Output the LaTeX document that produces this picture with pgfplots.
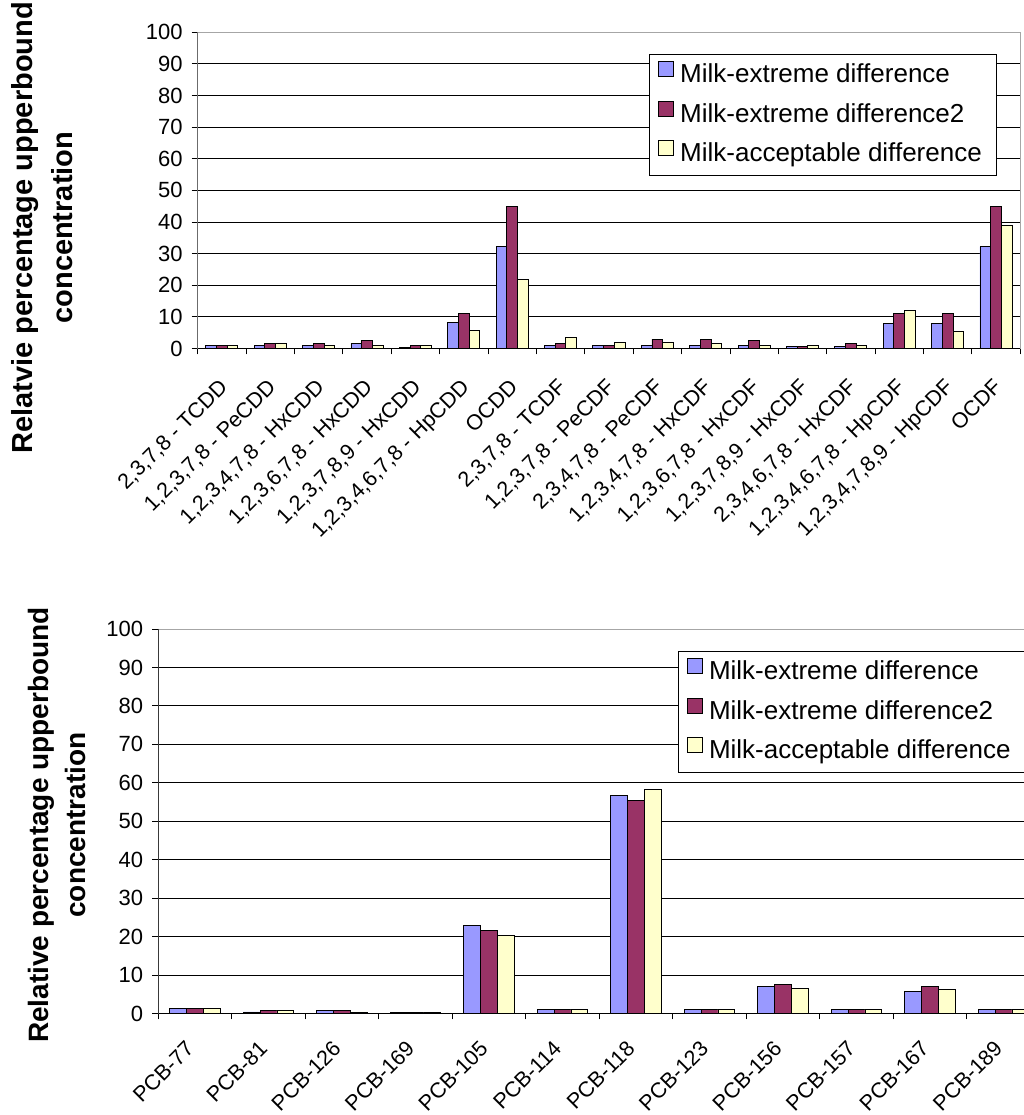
\documentclass[border=0pt]{standalone}
\usepackage{fontspec}
\setmainfont{Liberation Sans}
\usepackage{pgfplots}
\pgfplotsset{compat=1.18}
\definecolor{cBlue}{HTML}{9999FF}
\definecolor{cPurple}{HTML}{993366}
\definecolor{cYellow}{HTML}{FFFFCC}
\pgfplotsset{
  excelbar/.style={
    scale only axis,
    ybar=0pt,
    ymin=0, ymax=100,
    ytick={0,10,...,100},
    ymajorgrids,
    grid style={black, line width=0.8pt},
    axis line style={draw=gray!70, line width=0.8pt},
    xtick pos=bottom, ytick pos=left,
    tick align=outside,
    major tick length=6pt,
    minor tick length=6pt,
    tick style={black, line width=0.8pt},
    major x tick style={draw=none},
    /pgf/number format/assume math mode=true,
    yticklabel style={font=\fontsize{22}{26}\selectfont, inner sep=0pt, xshift=-9pt},
    legend cell align=left,
    legend image code/.code={\draw[##1, draw=black, line width=0.8pt] (0pt,-1pt) rectangle (15pt,14pt);},
    every axis plot/.append style={draw=black, line width=0.9pt},
  }
}
\begin{document}
\begin{tikzpicture}[x=1pt,y=1pt]
% ---------------- top chart ----------------
\begin{axis}[excelbar,
  at={(197.7pt,766.5pt)}, anchor=origin,
  width=822.5pt, height=316.3pt,
  xmin=0.5, xmax=17.5,
  bar width=10.7pt,
  xtick={1,...,17},
  minor xtick={0.5,1.5,...,17.5},
  xticklabels={{2,3,7,8 - TCDD},{1,2,3,7,8 - PeCDD},{1,2,3,4,7,8 - HxCDD},{1,2,3,6,7,8 - HxCDD},{1,2,3,7,8,9 - HxCDD},{1,2,3,4,6,7,8 - HpCDD},{OCDD},{2,3,7,8 - TCDF},{1,2,3,7,8 - PeCDF},{2,3,4,7,8 - PeCDF},{1,2,3,4,7,8 - HxCDF},{1,2,3,6,7,8 - HxCDF},{1,2,3,7,8,9 - HxCDF},{2,3,4,6,7,8 - HxCDF},{1,2,3,4,6,7,8 - HpCDF},{1,2,3,4,7,8,9 - HpCDF},{OCDF}},
  xticklabel style={font=\fontsize{21.5}{25}\selectfont, xshift=-4pt, yshift=-23pt, rotate=45, anchor=north east, inner sep=0pt},
  ylabel={Relatvie percentage upperbound\\concentration},
  ylabel style={at={(axis description cs:-0.1893,0.382)}, anchor=center, align=center, font=\fontsize{29}{40}\selectfont\bfseries},
  legend style={at={(rel axis cs:0.5487,0.931)}, anchor=north west, draw=black, line width=0.8pt, fill=white,
    font=\fontsize{26}{30}\selectfont, inner xsep=9pt, inner ysep=7pt, row sep=11pt,
    nodes={text height=19pt, text depth=5pt, inner xsep=6pt}},
]
\addplot[fill=cBlue] coordinates {(1,1) (2,1) (3,1) (4,1.6) (5,0.4) (6,8.1) (7,32.2) (8,1.05) (9,1) (10,1) (11,1) (12,1) (13,0.5) (14,0.5) (15,8.0) (16,8.0) (17,32.2)};
\addplot[fill=cPurple] coordinates {(1,1) (2,1.6) (3,1.6) (4,2.5) (5,1) (6,11.1) (7,45) (8,1.5) (9,1) (10,3.0) (11,3.0) (12,2.5) (13,0.5) (14,1.5) (15,11.0) (16,11.0) (17,44.9)};
\addplot[fill=cYellow] coordinates {(1,1) (2,1.6) (3,1) (4,1) (5,1) (6,5.6) (7,21.7) (8,3.6) (9,2.0) (10,2.0) (11,1.5) (12,1) (13,1) (14,1) (15,12.1) (16,5.5) (17,38.8)};
\legend{Milk-extreme difference, Milk-extreme difference2, Milk-acceptable difference}
\draw[black, line width=0.8pt] (rel axis cs:0,1) -- (rel axis cs:0,0) -- (rel axis cs:1,0);
\end{axis}
% ---------------- bottom chart ----------------
\begin{axis}[excelbar,
  at={(158.3pt,101.5pt)}, anchor=origin,
  width=882pt, height=384.5pt,
  xmin=0.5, xmax=12.5,
  bar width=16.8pt,
  xtick={1,...,12},
  minor xtick={0.5,1.5,...,12.5},
  xticklabels={PCB-77,PCB-81,PCB-126,PCB-169,PCB-105,PCB-114,PCB-118,PCB-123,PCB-156,PCB-157,PCB-167,PCB-189},
  xticklabel style={font=\fontsize{21.5}{25}\selectfont, xshift=-10.5pt, yshift=-20pt, rotate=45, anchor=north east, inner sep=0pt},
  ylabel={Relative percentage upperbound\\concentration},
  ylabel style={at={(axis description cs:-0.1154,0.490)}, anchor=center, align=center, font=\fontsize{28}{37}\selectfont\bfseries},
  legend style={at={(rel axis cs:0.589,0.943)}, anchor=north west, draw=black, line width=0.8pt, fill=white,
    font=\fontsize{26}{30}\selectfont, inner xsep=9pt, inner ysep=7pt, row sep=11pt,
    nodes={text height=19pt, text depth=5pt, inner xsep=6pt}},
]
\addplot[fill=cBlue] coordinates {(1,1.2) (2,0.4) (3,0.8) (4,0.3) (5,23.0) (6,1.1) (7,56.6) (8,1.1) (9,7.0) (10,1.1) (11,5.7) (12,1.1)};
\addplot[fill=cPurple] coordinates {(1,1.2) (2,0.8) (3,0.8) (4,0.3) (5,21.6) (6,1.1) (7,55.4) (8,1.1) (9,7.5) (10,1.1) (11,7.0) (12,1.1)};
\addplot[fill=cYellow] coordinates {(1,1.2) (2,0.8) (3,0.4) (4,0.3) (5,20.3) (6,1.1) (7,58.3) (8,1.1) (9,6.6) (10,1.1) (11,6.2) (12,1.1)};
\legend{Milk-extreme difference, Milk-extreme difference2, Milk-acceptable difference}
\draw[black, line width=0.8pt] (rel axis cs:0,1) -- (rel axis cs:0,0) -- (rel axis cs:1,0);
\end{axis}
\pgfresetboundingbox
\useasboundingbox (0pt,0pt) rectangle (1023pt,1115pt);
\end{tikzpicture}
\end{document}
